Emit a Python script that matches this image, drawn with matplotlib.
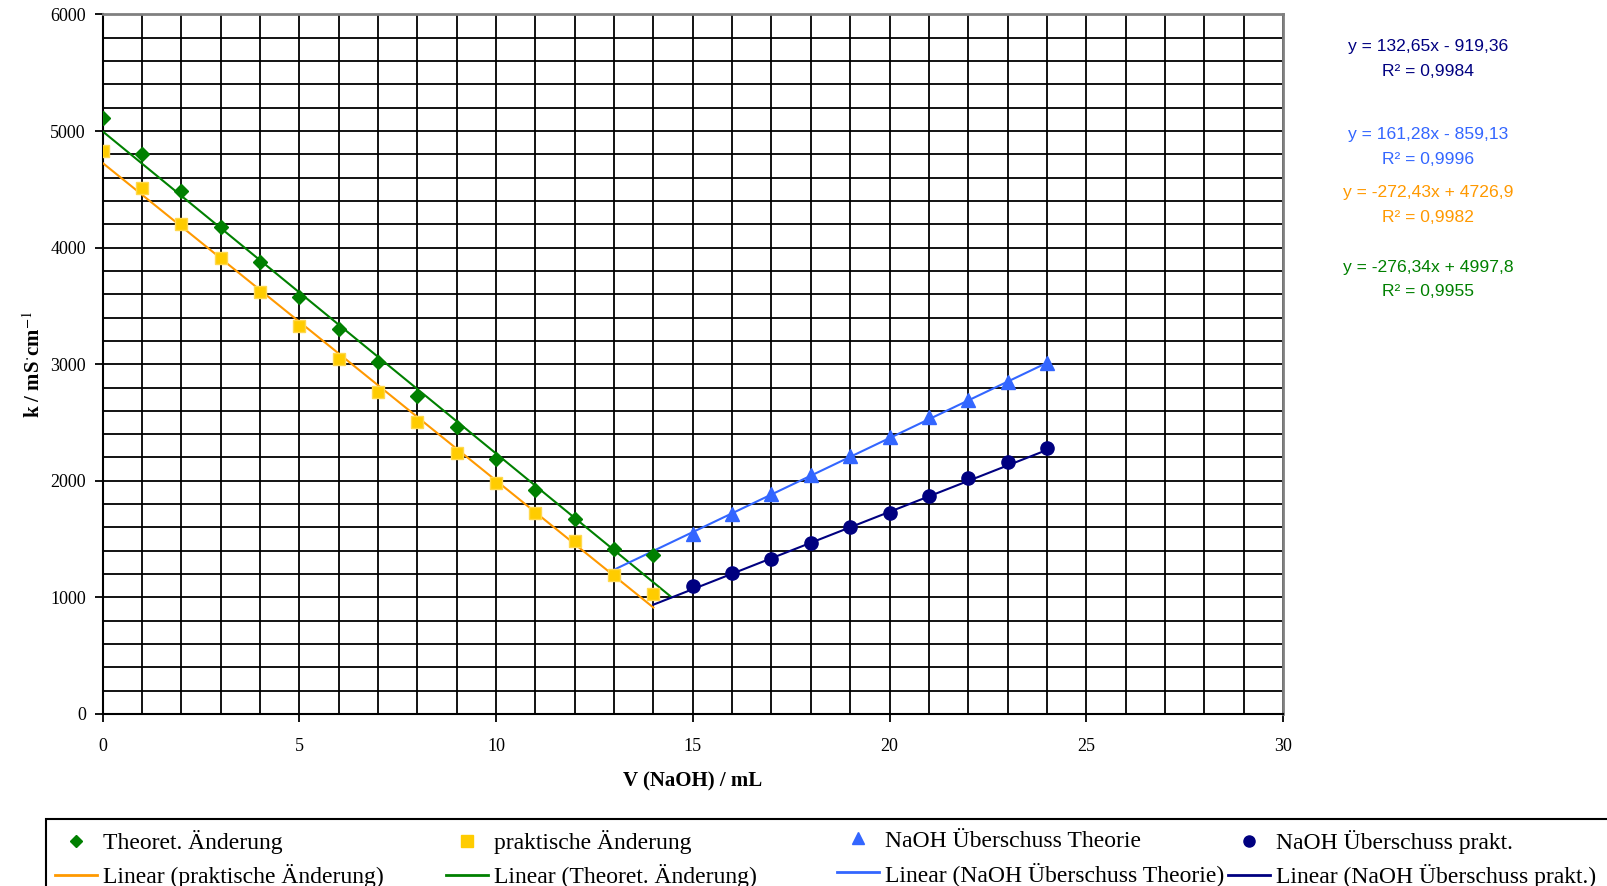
import numpy as np
import matplotlib
matplotlib.use("Agg")
import matplotlib.pyplot as plt
from matplotlib.patches import Rectangle
from matplotlib.lines import Line2D

W, H = 1607, 886

# measured values
x_theo = [0, 1, 2, 3, 4, 5, 6, 7, 8, 9, 10, 11, 12, 13, 14]
y_theo = [5115, 4800, 4485, 4177, 3880, 3579, 3302, 3020, 2730, 2459, 2187, 1921, 1670, 1412, 1364]
x_prak = [0, 1, 2, 3, 4, 5, 6, 7, 8, 9, 10, 11, 12, 13, 14]
y_prak = [4831, 4508, 4200, 3908, 3617, 3328, 3047, 2765, 2502, 2236, 1984, 1726, 1484, 1192, 1027]
x_naoh = [15, 16, 17, 18, 19, 20, 21, 22, 23, 24]
y_naoh_theo = [1544, 1715, 1884, 2050, 2215, 2378, 2545, 2690, 2850, 3008]
y_naoh_prak = [1100, 1212, 1327, 1464, 1601, 1721, 1870, 2021, 2158, 2279]

# trendlines (slope, intercept, x-range) as in the Excel labels
fit_prak = (-272.43, 4726.9, [0, 14])
fit_theo = (-276.34, 4997.8, [0, 14.45])
fit_naoh_theo = (161.28, -859.13, [13, 24])
fit_naoh_prak = (132.65, -919.36, [14, 24])

labels_eq = [
    ("y = 132,65x - 919,36", "R² = 0,9984", "#000080"),
    ("y = 161,28x - 859,13", "R² = 0,9996", "#3366FF"),
    ("y = -272,43x + 4726,9", "R² = 0,9982", "#FF9900"),
    ("y = -276,34x + 4997,8", "R² = 0,9955", "#008000"),
]

GREEN = "#008000"
YELLOW = "#FFCC00"
ORANGE = "#FF9900"
LBLUE = "#3366FF"
NAVY = "#000080"

plt.rcParams["font.family"] = ["Liberation Serif", "DejaVu Serif"]
plt.rcParams["mathtext.fontset"] = "stix"

fig = plt.figure(figsize=(W / 100, H / 100), dpi=100)
ax = fig.add_axes([102.5 / W, 1 - 714 / H, (1283 - 102.5) / W, (714 - 14.4) / H])

ax.set_xlim(0, 30)
ax.set_ylim(0, 6000)
ax.set_xticks(np.arange(0, 31, 5))
ax.set_yticks(np.arange(0, 6001, 1000))
ax.set_xticks(np.arange(0, 31, 1), minor=True)
ax.set_yticks(np.arange(0, 6001, 200), minor=True)
ax.grid(which="both", color="black", linewidth=1.3)
ax.set_axisbelow(True)
ax.tick_params(which="minor", length=0)
ax.tick_params(which="major", direction="out", length=6, width=1.3, labelsize=13)
ax.tick_params(axis="x", pad=11)
ax.tick_params(axis="y", pad=6)
for s in ["left", "bottom"]:
    ax.spines[s].set_color("black")
    ax.spines[s].set_linewidth(1.5)
for s in ["top", "right"]:
    ax.spines[s].set_color("#808080")
    ax.spines[s].set_linewidth(2)

def trend(fit, color):
    m, b, xr = fit
    xs = np.array(xr)
    ax.plot(xs, m * xs + b, color=color, linewidth=1.5, zorder=3)

trend(fit_prak, ORANGE)
trend(fit_theo, GREEN)
trend(fit_naoh_theo, LBLUE)
trend(fit_naoh_prak, NAVY)

ax.plot(x_theo, y_theo, "D", color=GREEN, ms=7.5, zorder=4)
ax.plot(x_prak, y_prak, "s", color=YELLOW, mec="#FFD84D", ms=9, zorder=4)
ax.plot(x_naoh, y_naoh_theo, "^", color=LBLUE, ms=9.5, zorder=4)
ax.plot(x_naoh, y_naoh_prak, "o", color=NAVY, ms=9.5, zorder=4)

ax.set_xlabel("V (NaOH) / mL", fontsize=15, fontweight="bold", labelpad=12)
ax.set_ylabel(r"k / mS$^{\cdot}$cm$^{-1}$", fontsize=15, fontweight="bold", labelpad=4)

# equation labels
eq_y = [(46, 72), (134, 159), (193, 218), (267, 292)]
for (eq, r2, c), (y1, y2) in zip(labels_eq, eq_y):
    fig.text(1428 / W, 1 - y1 / H, eq, color=c, ha="center", va="center",
             fontsize=12.6, family="Liberation Sans")
    fig.text(1428 / W, 1 - y2 / H, r2, color=c, ha="center", va="center",
             fontsize=12.6, family="Liberation Sans")

# legend box (Excel style, equal column widths)
fig.patches.append(Rectangle((46 / W, -0.1), 1.2, 1 - 819 / H + 0.1,
                             transform=fig.transFigure, fill=False,
                             edgecolor="black", linewidth=1.5))
cols = [
    (Line2D([], [], ls="", marker="D", color=GREEN, ms=6.5), "Theoret. Änderung",
     Line2D([], [], color=ORANGE, lw=2), "Linear (praktische Änderung)"),
    (Line2D([], [], ls="", marker="s", color=YELLOW, ms=8), "praktische Änderung",
     Line2D([], [], color=GREEN, lw=2), "Linear (Theoret. Änderung)"),
    (Line2D([], [], ls="", marker="^", color=LBLUE, ms=8), "NaOH Überschuss Theorie",
     Line2D([], [], color=LBLUE, lw=2), "Linear (NaOH Überschuss Theorie)"),
    (Line2D([], [], ls="", marker="o", color=NAVY, ms=8), "NaOH Überschuss prakt.",
     Line2D([], [], color=NAVY, lw=2), "Linear (NaOH Überschuss prakt.)"),
]
col_x = [55, 446, 837, 1228]
for (h1, l1, h2, l2), cx in zip(cols, col_x):
    fig.legend([h1, h2], [l1, l2], loc="upper left",
               bbox_to_anchor=(cx / W, 1 - 830 / H), frameon=False,
               fontsize=17, handlelength=1.78, handletextpad=0.25,
               labelspacing=0.43, borderpad=0, borderaxespad=0)

fig.savefig("out.png", dpi=100)
